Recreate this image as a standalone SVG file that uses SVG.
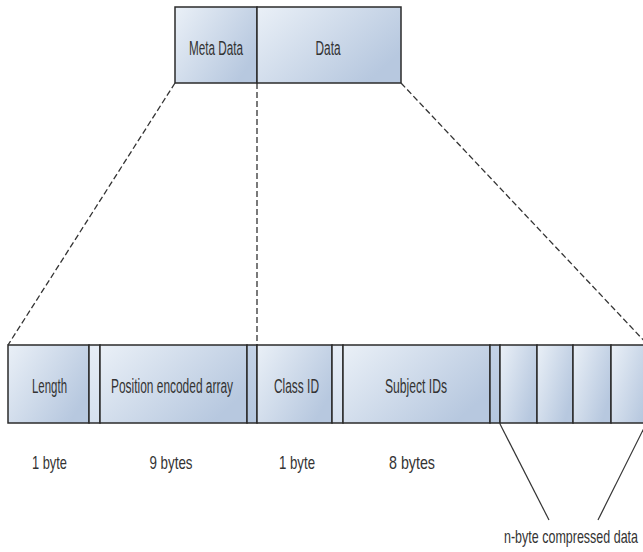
<svg xmlns="http://www.w3.org/2000/svg" width="643" height="552" viewBox="0 0 643 552">
  <defs>
    <linearGradient id="cellFill" x1="0" y1="0" x2="1" y2="0.6">
      <stop offset="0" stop-color="#eaf0f7"/>
      <stop offset="1" stop-color="#b7c8df"/>
    </linearGradient>
    <linearGradient id="stripLight" x1="0" y1="0" x2="0" y2="1">
      <stop offset="0" stop-color="#e6edf6"/>
      <stop offset="1" stop-color="#d5e0ee"/>
    </linearGradient>
    <linearGradient id="stripDark" x1="0" y1="0" x2="0" y2="1">
      <stop offset="0" stop-color="#c3d2e6"/>
      <stop offset="1" stop-color="#b4c6de"/>
    </linearGradient>
  </defs>
  <style>
    .cell { fill: url(#cellFill); stroke: #2b2b2b; stroke-width: 1.5; }
    .strip-l { fill: url(#stripLight); stroke: #2b2b2b; stroke-width: 1.5; }
    .strip-d { fill: url(#stripDark); stroke: #2b2b2b; stroke-width: 1.5; }
    .lbl { font-family: "Liberation Sans Narrow", "Liberation Sans", Arial, sans-serif; font-size: 20.5px; fill: #333; text-anchor: middle; }
    .note { font-family: "Liberation Sans Narrow", "Liberation Sans", Arial, sans-serif; font-size: 18.5px; fill: #333; text-anchor: middle; }
    .dash { fill: none; stroke: #333; stroke-width: 1.3; stroke-dasharray: 6 3; }
    .solid { fill: none; stroke: #333; stroke-width: 1.2; }
  </style>

  <!-- record header -->
  <g id="meta-data">
    <rect class="cell" x="175" y="7" width="82" height="76"/>
    <text class="lbl" x="216" y="55" textLength="54" lengthAdjust="spacingAndGlyphs">Meta Data</text>
  </g>
  <g id="data">
    <rect class="cell" x="257" y="7" width="144" height="76"/>
    <text class="lbl" x="328" y="55" textLength="25" lengthAdjust="spacingAndGlyphs">Data</text>
  </g>

  <!-- expanded layout -->
  <g id="length">
    <rect class="cell" x="8" y="345" width="81" height="78"/>
    <text class="lbl" x="49.5" y="393" textLength="35" lengthAdjust="spacingAndGlyphs">Length</text>
  </g>
  <g id="gap-1"><rect class="strip-l" x="89" y="345" width="11" height="78"/></g>
  <g id="position-array">
    <rect class="cell" x="100" y="345" width="147" height="78"/>
    <text class="lbl" x="172" y="393" textLength="122" lengthAdjust="spacingAndGlyphs">Position encoded array</text>
  </g>
  <g id="gap-2"><rect class="strip-d" x="247" y="345" width="10" height="78"/></g>
  <g id="class-id">
    <rect class="cell" x="257" y="345" width="75" height="78"/>
    <text class="lbl" x="296.5" y="393" textLength="45" lengthAdjust="spacingAndGlyphs">Class ID</text>
  </g>
  <g id="gap-3"><rect class="strip-l" x="332" y="345" width="11" height="78"/></g>
  <g id="subject-ids">
    <rect class="cell" x="343" y="345" width="147" height="78"/>
    <text class="lbl" x="416" y="393" textLength="62" lengthAdjust="spacingAndGlyphs">Subject IDs</text>
  </g>
  <g id="gap-4"><rect class="strip-d" x="490" y="345" width="10" height="78"/></g>
  <g id="byte-1"><rect class="cell" x="500" y="345" width="37" height="78"/></g>
  <g id="byte-2"><rect class="cell" x="537" y="345" width="36" height="78"/></g>
  <g id="byte-3"><rect class="cell" x="573" y="345" width="38" height="78"/></g>
  <g id="byte-4"><rect class="cell" x="611" y="345" width="40" height="78"/></g>

  <!-- size annotations -->
  <g id="sizes">
    <text class="note" x="49.5" y="469" textLength="35" lengthAdjust="spacingAndGlyphs">1  byte</text>
    <text class="note" x="171" y="469" textLength="43" lengthAdjust="spacingAndGlyphs">9 bytes</text>
    <text class="note" x="297" y="469" textLength="36" lengthAdjust="spacingAndGlyphs">1  byte</text>
    <text class="note" x="412" y="469" textLength="46" lengthAdjust="spacingAndGlyphs">8 bytes</text>
    <text class="note" x="571" y="543" textLength="134" lengthAdjust="spacingAndGlyphs">n-byte compressed data</text>
  </g>

  <!-- connectors -->
  <g id="connectors">
    <line class="dash" x1="175" y1="83" x2="8" y2="345"/>
    <line class="dash" x1="257" y1="83" x2="257" y2="345"/>
    <line class="dash" x1="401" y1="83" x2="649" y2="346"/>
    <line class="solid" x1="500" y1="424" x2="549" y2="520"/>
    <line class="solid" x1="645" y1="426" x2="598" y2="520"/>
  </g>
</svg>
